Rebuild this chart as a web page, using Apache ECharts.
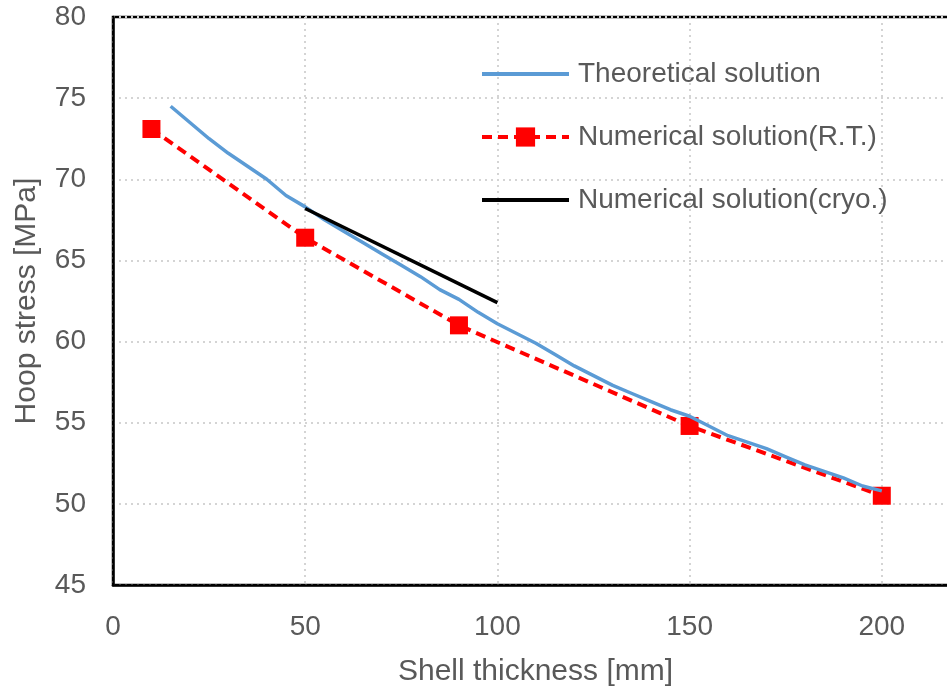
<!DOCTYPE html>
<html>
<head>
<meta charset="utf-8">
<script src="https://cdn.jsdelivr.net/npm/echarts@6/dist/echarts.min.js"></script>
<style>
  html, body { margin: 0; padding: 0; background: #fff; overflow: hidden; }
  #main { width: 1200px; height: 692px; }
</style>
</head>
<body>
<div id="main"></div>
<script>
// datos
var theoryX = [15, 20, 25, 30, 35, 40, 45, 50, 55, 60, 65, 70, 75, 80, 85, 90, 95, 100,
  105, 110, 115, 120, 125, 130, 135, 140, 145, 150, 155, 160, 165, 170, 175, 180, 185, 190, 195, 200];
var theoryY = [74.5, 73.5, 72.5, 71.6, 70.8, 70.0, 69.0, 68.3, 67.5, 66.8, 66.1, 65.4, 64.7, 64.0,
  63.2, 62.6, 61.8, 61.1, 60.5, 59.9, 59.2, 58.5, 57.9, 57.3, 56.8, 56.3, 55.8, 55.4, 54.8, 54.2,
  53.8, 53.4, 52.9, 52.4, 52.0, 51.6, 51.1, 50.8];
var rtX = [10, 50, 90, 150, 200];
var rtY = [73.1, 66.4, 61.0, 54.8, 50.5];
var cryoX = [50, 100];
var cryoY = [68.2, 62.4];

function pairs(xs, ys) {
  return xs.map(function (x, i) { return [x, ys[i]]; });
}

var chartDom = document.getElementById('main');
var myChart = echarts.init(chartDom);
var font = 'Liberation Sans';
var gray = '#595959';

// el lado derecho del grafico queda fuera de la ventana (recortado como en la imagen)
var option = {
  animation: false,
  textStyle: { fontFamily: font },
  grid: {
    left: 113,
    top: 17,
    bottom: 106,
    right: 126,
    show: true,
    borderColor: '#000',
    borderWidth: 2.5
  },
  legend: {
    orient: 'vertical',
    left: 475,
    top: 55,
    itemWidth: 87,
    itemHeight: 24,
    itemGap: 35,
    textStyle: { fontSize: 28, color: gray, lineHeight: 28, padding: [0, 0, 0, 4] },
    data: [
      { name: 'Theoretical solution', itemStyle: { opacity: 0 }, lineStyle: { width: 4 } },
      { name: 'Numerical solution(R.T.)', lineStyle: { width: 4 } },
      { name: 'Numerical solution(cryo.)', itemStyle: { opacity: 0 }, lineStyle: { width: 4 } }
    ]
  },
  xAxis: {
    type: 'value',
    min: 0,
    max: 250,
    interval: 50,
    name: 'Shell thickness [mm]',
    nameLocation: 'middle',
    nameGap: 72,
    nameTextStyle: { fontSize: 30, color: gray, padding: [0, 0, 0, -116] },
    axisLine: { lineStyle: { color: '#000', width: 2.5 } },
    axisTick: { show: false },
    axisLabel: { fontSize: 28, color: gray, margin: 28 },
    splitLine: { lineStyle: { color: '#d4d4d4', width: 2, type: [2, 4] } }
  },
  yAxis: {
    type: 'value',
    min: 45,
    max: 80,
    interval: 5,
    name: 'Hoop stress [MPa]',
    nameLocation: 'middle',
    nameGap: 71,
    nameTextStyle: { fontSize: 30, color: gray },
    axisLine: { show: true, lineStyle: { color: '#000', width: 2.5 } },
    axisTick: { show: false },
    axisLabel: { fontSize: 28, color: gray, margin: 27 },
    splitLine: { lineStyle: { color: '#d4d4d4', width: 2, type: [2, 4] } }
  },
  series: [
    {
      name: 'Theoretical solution',
      type: 'line',
      symbol: 'none',
      data: pairs(theoryX, theoryY),
      lineStyle: { color: '#5b9bd5', width: 3.5 },
      itemStyle: { color: '#5b9bd5' },
      z: 3
    },
    {
      name: 'Numerical solution(R.T.)',
      type: 'line',
      symbol: 'rect',
      symbolSize: 18,
      data: pairs(rtX, rtY),
      lineStyle: { color: '#ff0000', width: 4, type: [10, 6] },
      itemStyle: { color: '#ff0000' },
      z: 2
    },
    {
      name: 'Numerical solution(cryo.)',
      type: 'line',
      symbol: 'none',
      data: pairs(cryoX, cryoY),
      lineStyle: { color: '#000', width: 3.5 },
      itemStyle: { color: '#000' },
      z: 4
    }
  ]
};

option && myChart.setOption(option);
</script>
</body>
</html>
